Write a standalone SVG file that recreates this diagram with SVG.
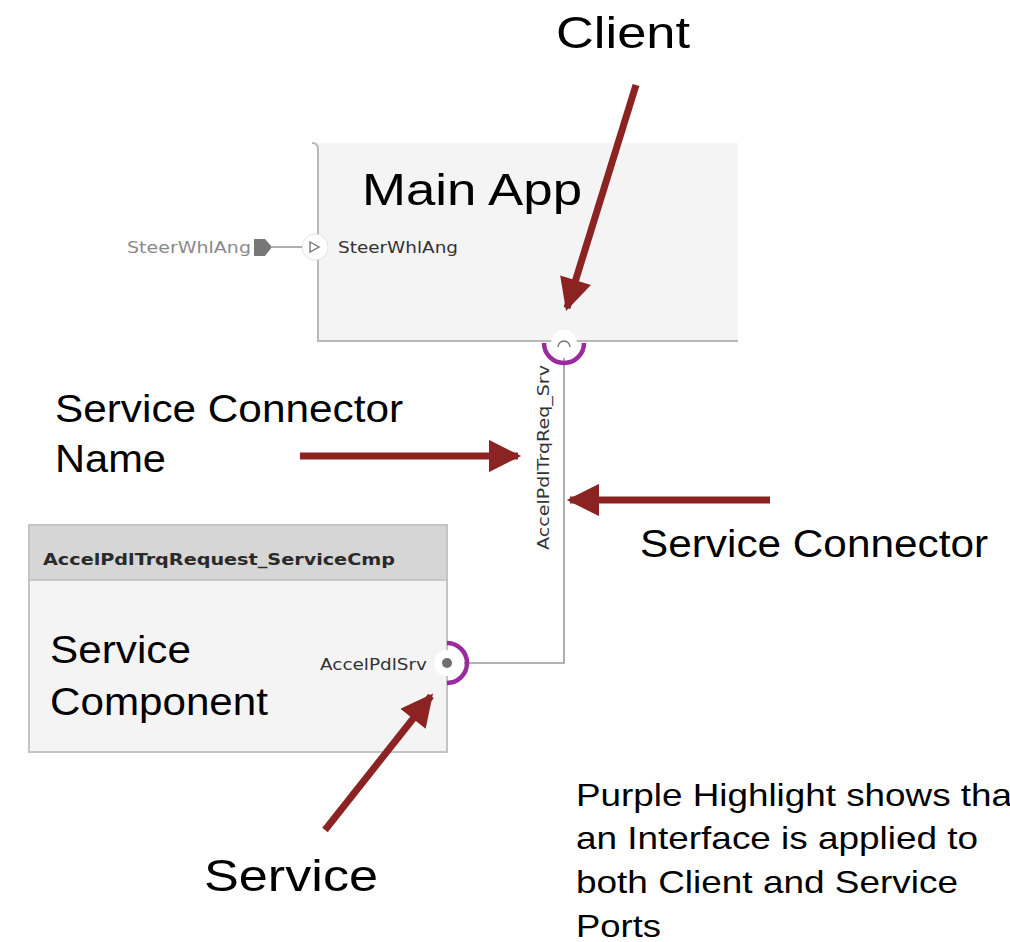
<svg xmlns="http://www.w3.org/2000/svg" width="1010" height="942" viewBox="0 0 1010 942">
  <defs>
    <style>
      .note { font-family: "Liberation Sans", Arial, sans-serif; fill: #000; }
      .port-lbl { font-family: "DejaVu Sans", "Liberation Sans", sans-serif; font-size: 15px; fill: #333; }
      .callout { stroke: #8b2323; stroke-width: 7; fill: none; }
      .wire { stroke: #9a9a9a; stroke-width: 1.6; fill: none; }
      .halo { fill: none; stroke: #9b2a9f; stroke-width: 4.5; }
    </style>
    <marker id="head" viewBox="0 0 10 10" refX="9" refY="5" markerWidth="5" markerHeight="4.6" orient="auto" markerUnits="strokeWidth">
      <path d="M0,0 L10,5 L0,10 Z" fill="#8b2323"/>
    </marker>
  </defs>

  <rect width="1010" height="942" fill="#ffffff"/>

  <!-- Main App component -->
  <g id="main-app">
    <rect x="318" y="143" width="420" height="198" fill="#f4f4f4"/>
    <path d="M312,143 Q318,143 318,149 L318,341 L738,341" fill="none" stroke="#b8b8b8" stroke-width="2"/>
    <text class="note" x="362" y="205" font-size="45" textLength="220" lengthAdjust="spacingAndGlyphs">Main App</text>
    <circle cx="315" cy="247" r="13" fill="#ffffff" stroke="#e4e4e4" stroke-width="1"/>
    <path d="M310,242 L319,247 L310,252 Z" fill="none" stroke="#777" stroke-width="1.4"/>
    <text class="port-lbl" x="338" y="253" textLength="120" lengthAdjust="spacingAndGlyphs">SteerWhlAng</text>
  </g>

  <!-- Root inport -->
  <g id="steer-inport">
    <text class="port-lbl" x="127" y="253" style="fill:#8a8a8a" textLength="124" lengthAdjust="spacingAndGlyphs">SteerWhlAng</text>
    <path d="M254,239 L265,239 L272,247 L265,256 L254,256 Z" fill="#777"/>
  </g>

  <!-- Service component -->
  <g id="service-cmp">
    <rect x="29" y="525" width="418" height="227" fill="#f4f4f4" stroke="#c4c4c4" stroke-width="2"/>
    <rect x="30" y="526" width="416" height="54" fill="#d6d6d6"/>
    <line x1="29" y1="580" x2="447" y2="580" stroke="#bdbdbd" stroke-width="1.5"/>
    <text x="43" y="565" font-family="'DejaVu Sans', sans-serif" font-size="15" font-weight="bold" fill="#2a2a2a" textLength="352" lengthAdjust="spacingAndGlyphs">AccelPdlTrqRequest_ServiceCmp</text>
    <text class="note" x="50" y="663" font-size="39" textLength="141" lengthAdjust="spacingAndGlyphs">Service</text>
    <text class="note" x="50" y="715" font-size="39" textLength="218" lengthAdjust="spacingAndGlyphs">Component</text>
    <text class="port-lbl" x="320" y="670" textLength="107" lengthAdjust="spacingAndGlyphs">AccelPdlSrv</text>
  </g>

  <!-- Connectors -->
  <g id="connectors">
    <line class="wire" x1="302" y1="247" x2="272" y2="247"/>
    <path class="wire" d="M564,358 L564,663 L464,663"/>
    <text class="port-lbl" transform="translate(549,550) rotate(-90)" textLength="185" lengthAdjust="spacingAndGlyphs">AccelPdlTrqReq_Srv</text>
  </g>

  <!-- Client port on Main App -->
  <g id="client-port">
    <path class="halo" d="M544,343 A20,20 0 0 0 584,343"/>
    <circle cx="564" cy="343" r="13" fill="#ffffff"/>
    <path d="M558,347 A6,6 0 0 1 570,347" fill="none" stroke="#777" stroke-width="1.4"/>
  </g>

  <!-- Service port on service component -->
  <g id="service-port">
    <path class="halo" d="M447,643 A20,20 0 0 1 447,683"/>
    <circle cx="447" cy="663" r="13" fill="#ffffff"/>
    <circle cx="447" cy="663" r="5" fill="#6f6f6f"/>
  </g>

  <!-- Callouts -->
  <g id="callouts">
    <line class="callout" x1="636" y1="85" x2="567" y2="308" marker-end="url(#head)"/>
    <line class="callout" x1="300" y1="456" x2="518" y2="456" marker-end="url(#head)"/>
    <line class="callout" x1="770" y1="500" x2="570" y2="500" marker-end="url(#head)"/>
    <line class="callout" x1="325" y1="830" x2="431" y2="696" marker-end="url(#head)"/>
  </g>

  <g id="labels">
    <text class="note" x="556" y="48" font-size="45" textLength="134" lengthAdjust="spacingAndGlyphs">Client</text>
    <text class="note" x="55" y="422" font-size="38" textLength="348" lengthAdjust="spacingAndGlyphs">Service Connector</text>
    <text class="note" x="55" y="472" font-size="38" textLength="111" lengthAdjust="spacingAndGlyphs">Name</text>
    <text class="note" x="640" y="557" font-size="38" textLength="348" lengthAdjust="spacingAndGlyphs">Service Connector</text>
    <text class="note" x="204" y="891" font-size="45" textLength="174" lengthAdjust="spacingAndGlyphs">Service</text>
    <text class="note" x="576" y="806" font-size="32" textLength="436" lengthAdjust="spacingAndGlyphs">Purple Highlight shows tha</text>
    <text class="note" x="576" y="849" font-size="32" textLength="402" lengthAdjust="spacingAndGlyphs">an Interface is applied to</text>
    <text class="note" x="576" y="893" font-size="32" textLength="382" lengthAdjust="spacingAndGlyphs">both Client and Service</text>
    <text class="note" x="576" y="937" font-size="32" textLength="85" lengthAdjust="spacingAndGlyphs">Ports</text>
  </g>
</svg>
